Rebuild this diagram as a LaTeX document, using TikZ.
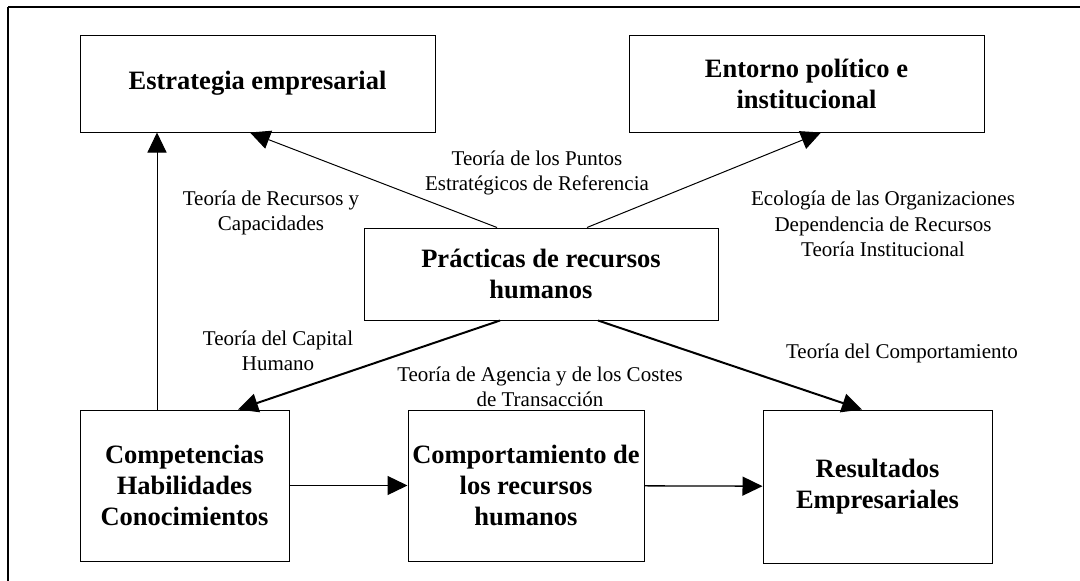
\documentclass[tikz,border=0pt]{standalone}
\usepackage{fontspec}
\setmainfont{Liberation Serif}
\usepackage{tikz}
\usetikzlibrary{arrows.meta}
\usetikzlibrary{calc}
\tikzstyle{block} = [draw, line width=1pt, align=center,
	font=\fontsize{26.5}{31}\selectfont\bfseries]
\tikzstyle{theory} = [align=center, font=\fontsize{21}{25.5}\selectfont]
\tikzstyle{arrow} = [-{Triangle[length=20pt, width=19pt]}, line width=1pt]
\tikzstyle{thickarrow} = [arrow, line width=2pt]

\begin{document}
\begin{tikzpicture}[x=1pt, y=-1pt]
		
			\useasboundingbox (0,0) rectangle (1080,581);
			\draw [line width=2.2pt] (8,7) -- (1080,7);
			\draw [line width=1.6pt] (8,7) -- (8,581);
			
			\node (estrategia) [block, minimum width=355pt, minimum height=97pt] at (257.5,83.5) {Estrategia empresarial};
			\node (entorno) [block, minimum width=355pt, minimum height=97pt] at (806.5,83.5) {Entorno político e\\institucional};
			\node (practicas) [block, minimum width=354pt, minimum height=92pt] at (541,274) {Prácticas de recursos\\humanos};
			
			\node (competencias) [block, minimum width=209pt, minimum height=151pt] at (184.5,485.5) {Competencias\\Habilidades\\Conocimientos};
			\node (comportamiento) [block, minimum width=236pt, minimum height=151pt] at (526,485.5) {Comportamiento de\\los recursos\\humanos};
			\node (resultados) [block, minimum width=229pt, minimum height=153pt] at (877.5,486.5) {Resultados\\Empresariales};
			
			\draw [arrow] ($(practicas.north) + (-44,0)$) -- ($(estrategia.south) + (-7.5,0)$);
			\draw [arrow] ($(practicas.north) + (46,0)$) -- ($(entorno.south) + (14.5,0)$);
			\draw [thickarrow] ($(practicas.south) + (-41,0)$) -- ($(competencias.north) + (53.5,0)$);
			\draw [thickarrow] ($(practicas.south) + (57,0)$) -- ($(resultados.north) + (-15.5,0)$);
			\draw [arrow] ($(competencias.north) + (-27.5,0)$) coordinate (up) -- (up |- estrategia.south);
			\draw [arrow, line width=1.3pt] (competencias) -- (comportamiento);
			\draw [arrow, line width=1.3pt] (comportamiento) -- (resultados);
			
			\node (rbv) [theory] at (271,213) {Teoría de Recursos y\\Capacidades};
			\node (puntos) [theory] at (537,173) {Teoría de los Puntos\\Estratégicos de Referencia};
			\node (ecologia) [theory] at (883,224) {Ecología de las Organizaciones\\Dependencia de Recursos\\Teoría Institucional};
			\node (capital) [theory] at (278,351) {Teoría del Capital\\Humano};
			\node (agencia) [theory] at (540,387) {Teoría de Agencia y de los Costes\\de Transacción};
			\node (conducta) [theory] at (902,353) {Teoría del Comportamiento};
		\end{tikzpicture}
\end{document}
